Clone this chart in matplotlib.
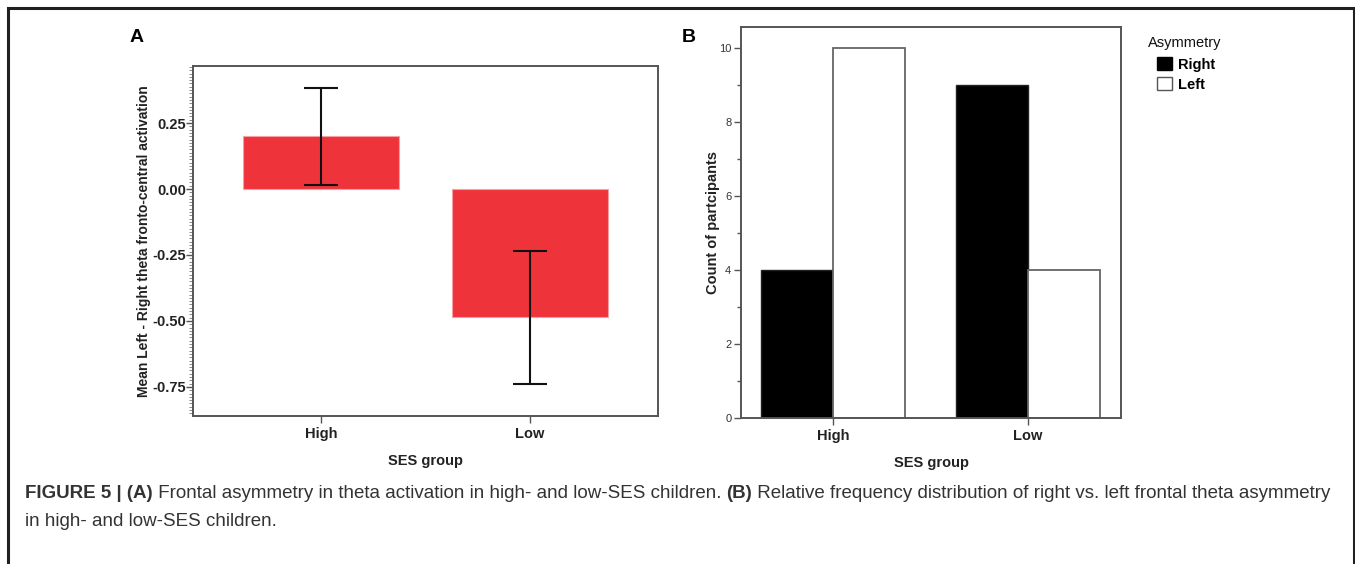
import matplotlib
matplotlib.use("Agg")
import matplotlib.pyplot as plt
from matplotlib.ticker import MultipleLocator, FixedLocator
from matplotlib.patches import Rectangle, Patch

plt.rcParams['font.family'] = ['Liberation Sans', 'DejaVu Sans']

# ---- data ----
groups = ['High', 'Low']
mean_asym = [0.20, -0.485]
err_half = [0.184, 0.252]
right_counts = [4, 9]
left_counts = [10, 4]
legend_labels = ['Right', 'Left']
a_yticks = [0.25, 0.00, -0.25, -0.50, -0.75]
b_yticks = [0, 2, 4, 6, 8, 10]

W, H = 1355, 564
fig = plt.figure(figsize=(W / 100, H / 100), dpi=100)

def fx(px):
    return px / W

def fy(py):
    return 1 - py / H

# outer frame
fig.patches.append(Rectangle((fx(8), fy(566)), fx(1354) - fx(8), fy(8) - fy(566),
                             transform=fig.transFigure, fill=False,
                             edgecolor='#231f20', linewidth=2.2))

# ---- Panel A ----
axA = fig.add_axes([fx(193), fy(416), fx(658) - fx(193), fy(66) - fy(416)])
x = range(len(groups))
axA.bar(x, mean_asym, width=0.75, color='#ef333b', edgecolor='#f7a0a4', linewidth=0.8, zorder=2)
axA.errorbar(x, mean_asym, yerr=err_half, fmt='none', ecolor='#111111',
             elinewidth=1.5, capsize=12, capthick=1.5, zorder=3)
axA.set_xlim(-0.612, 1.612)
axA.set_ylim(-0.86, 0.466)
axA.yaxis.set_major_locator(FixedLocator(a_yticks))
axA.set_yticklabels([f"{v:.2f}" for v in a_yticks])
axA.yaxis.set_minor_locator(MultipleLocator(0.0125))
axA.set_xticks(list(x))
axA.set_xticklabels(groups)
for s in axA.spines.values():
    s.set_color('#555555')
    s.set_linewidth(1.4)
axA.tick_params(axis='y', which='major', length=5, width=1, color='#555555',
                labelsize=10.5, pad=0)
axA.tick_params(axis='y', which='minor', length=3, width=0.6, color='#777777')
axA.tick_params(axis='x', length=5, width=1, color='#555555', labelsize=10.5, pad=3)
for lab in axA.get_yticklabels() + axA.get_xticklabels():
    lab.set_fontweight('bold')
    lab.set_color('#222222')
axA.set_ylabel('Mean Left - Right theta fronto-central activation', fontsize=10,
               fontweight='bold', color='#222222', labelpad=1)
axA.set_xlabel('SES group', fontsize=10.5, fontweight='bold', color='#222222', labelpad=9)

# ---- Panel B ----
axB = fig.add_axes([fx(741), fy(418), fx(1121) - fx(741), fy(27) - fy(418)])
bw = 0.369
xb = list(range(len(groups)))
axB.bar([v - bw / 2 for v in xb], right_counts, width=bw, color='black',
        edgecolor='#222222', linewidth=1.0, zorder=2)
axB.bar([v + bw / 2 for v in xb], left_counts, width=bw, color='white',
        edgecolor='#666666', linewidth=1.3, zorder=2)
axB.set_xlim(-0.472, 1.477)
axB.set_ylim(0, 10.57)
axB.yaxis.set_major_locator(FixedLocator(b_yticks))
axB.yaxis.set_minor_locator(MultipleLocator(1))
axB.set_xticks(xb)
axB.set_xticklabels(groups)
for s in axB.spines.values():
    s.set_color('#555555')
    s.set_linewidth(1.4)
axB.tick_params(axis='y', which='major', length=5, width=1, color='#555555',
                labelsize=8, labelcolor='#333333', pad=2)
axB.tick_params(axis='y', which='minor', length=3, width=1, color='#555555')
axB.tick_params(axis='x', length=5, width=1, color='#555555', labelsize=10.5, pad=3)
for lab in axB.get_xticklabels():
    lab.set_fontweight('bold')
    lab.set_color('#222222')
axB.set_ylabel('Count of partcipants', fontsize=10.5, fontweight='bold',
               color='#222222', labelpad=-1)
axB.set_xlabel('SES group', fontsize=10.5, fontweight='bold', color='#222222', labelpad=9)

# legend (title drawn separately so that entries are indented)
fig.text(fx(1148), fy(43), 'Asymmetry', fontsize=10.5, va='center', ha='left', color='#111111')
handles = [Patch(facecolor='black', edgecolor='black'),
           Patch(facecolor='white', edgecolor='#555555')]
leg = fig.legend(handles, legend_labels, loc='upper left',
                 bbox_to_anchor=(fx(1157), fy(57)), frameon=False,
                 prop={'weight': 'bold', 'size': 10.5},
                 handlelength=1.0, handleheight=1.0, handletextpad=0.45,
                 labelspacing=0.4, borderaxespad=0, borderpad=0)

# panel letters
fig.text(fx(130), fy(38), 'A', fontsize=14, fontweight='bold', va='center', ha='left')
fig.text(fx(682), fy(38), 'B', fontsize=14, fontweight='bold', va='center', ha='left')

# caption with mixed weights
fig.canvas.draw()
renderer = fig.canvas.get_renderer()

def put_segments(segments, x0, y0, size=13.5):
    xpos = x0
    for txt, bold in segments:
        t = fig.text(xpos / W, fy(y0), txt, fontsize=size, va='center', ha='left',
                     fontweight='bold' if bold else 'normal', color='#333333')
        bb = t.get_window_extent(renderer=renderer)
        xpos += bb.width

put_segments([('FIGURE 5 | (A)', True),
              (' Frontal asymmetry in theta activation in high- and low-SES children. ', False),
              ('(B)', True),
              (' Relative frequency distribution of right vs. left frontal theta asymmetry', False)],
             25, 494)
put_segments([('in high- and low-SES children.', False)], 25, 521)

fig.savefig('out.png', dpi=100)
